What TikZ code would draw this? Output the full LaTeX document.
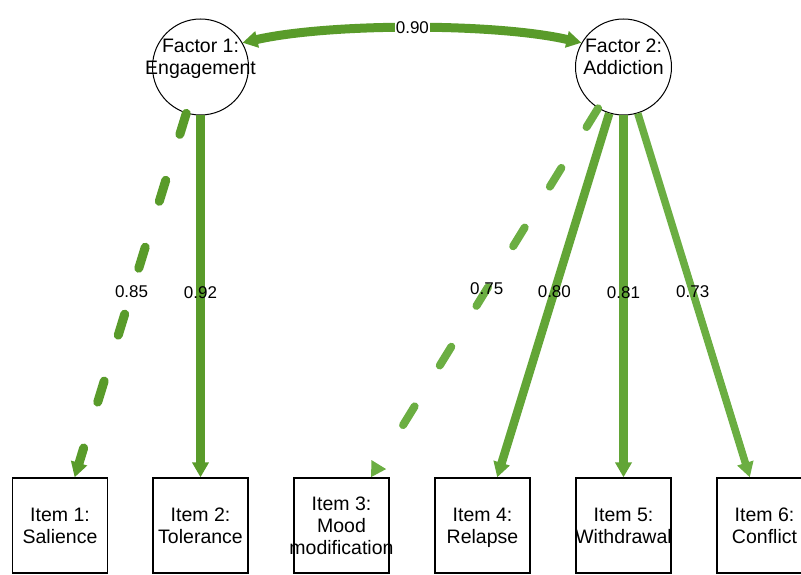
\documentclass[tikz,border=0pt]{standalone}
\usepackage{fontspec}
\setmainfont{Liberation Sans}
\usetikzlibrary{arrows.meta}
\definecolor{gA}{HTML}{599B2A}
\definecolor{gB}{HTML}{62A536}
\definecolor{gC}{HTML}{6BAE42}
\newcommand{\ztext}[2]{\raisebox{#1}[0pt][0pt]{\makebox[0pt]{\begin{tabular}{@{}c@{}}#2\end{tabular}}}}
\begin{document}
\begin{tikzpicture}[x=1pt,y=-1pt,
  factor/.style={circle,draw,line width=1pt,minimum size=96pt,inner sep=0pt,font=\fontsize{19.5}{22}\selectfont},
  item/.style={rectangle,draw,line width=1.3pt,minimum width=95pt,minimum height=95pt,inner sep=0pt,font=\fontsize{19.5}{22}\selectfont},
  load/.style={line width=#1,-{Triangle[width=16pt,length=15pt]}},
  dsh/.style={dash pattern=on 22pt off 48pt,line cap=round},
  lab/.style={font=\fontsize{17}{19}\selectfont,inner sep=1pt},
]
\useasboundingbox (0,0) rectangle (801,575);

\node[factor] (f1) at (200.5,67) {\ztext{2.6pt}{Factor 1:\\Engagement}};
\node[factor] (f2) at (623.5,67) {\ztext{2.6pt}{Factor 2:\\Addiction}};

\node[item] (i1) at (60,525.5)    {\ztext{-8pt}{Item 1:\\Salience}};
\node[item] (i2) at (200.5,525.5) {\ztext{-8pt}{Item 2:\\Tolerance}};
\node[item] (i3) at (341.5,525.5) {\ztext{-8pt}{Item 3:\\Mood\\modification}};
\node[item] (i4) at (482.5,525.5) {\ztext{-8pt}{Item 4:\\Relapse}};
\node[item] (i5) at (623.5,525.5) {\ztext{-8pt}{Item 5:\\Withdrawal}};
\node[item] (i6) at (764.5,525.5) {\ztext{-8pt}{Item 6:\\Conflict}};

\draw[gA,load=9pt,dsh] (f1) -- node[lab,text=black,pos=0.49]{0.85} (i1);
\draw[gA,load=9.5pt] (f1) -- node[lab,text=black,pos=0.49]{0.92} (i2);
\draw[gC,load=8pt,dsh] (f2) -- node[lab,text=black,pos=0.49]{0.75} (i3);
\draw[gB,load=8.5pt] (f2) -- node[lab,text=black,pos=0.49]{0.80} (i4);
\draw[gB,load=8.5pt] (f2) -- node[lab,text=black,pos=0.49]{0.81} (i5);
\draw[gC,load=7.5pt] (f2) -- node[lab,text=black,pos=0.49]{0.73} (i6);

\draw[gA,line width=9pt,{Triangle[width=16pt,length=15pt]}-{Triangle[width=16pt,length=15pt]}]
  (f1.30) .. controls (330,23) and (495,23) .. node[lab,text=black,fill=white,pos=0.5]{0.90} (f2.150);
\end{tikzpicture}
\end{document}
